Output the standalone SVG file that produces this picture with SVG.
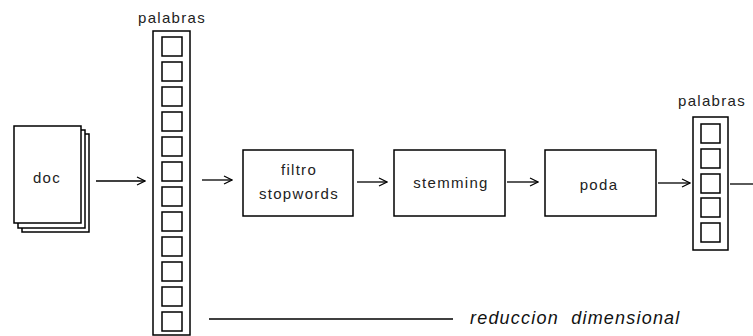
<svg xmlns="http://www.w3.org/2000/svg" width="753" height="336" viewBox="0 0 753 336">
  <defs>
    <marker id="arrow" viewBox="0 0 10 10" refX="9" refY="5" markerWidth="10" markerHeight="10" markerUnits="userSpaceOnUse" orient="auto">
      <path d="M1,1 L9,5 L1,9" fill="none" stroke="#000" stroke-width="1.2"/>
    </marker>
  </defs>
  <style>
    .box { fill: #fff; stroke: #000; stroke-width: 1.5; }
    .cell { fill: #fff; stroke: #000; stroke-width: 1.5; }
    .lbl { font-family: "Liberation Sans", Arial, sans-serif; font-size: 15px; letter-spacing: 1.3px; fill: #222; text-anchor: middle; }
    .conn { stroke: #000; stroke-width: 1.3; fill: none; }
    .note { font-family: "Liberation Sans", Arial, sans-serif; font-size: 18px; font-style: italic; letter-spacing: 1.2px; fill: #111; }
  </style>

  <!-- document stack -->
  <g id="doc">
    <rect class="box" x="22" y="134" width="67" height="98"/>
    <rect class="box" x="18" y="130" width="67" height="98"/>
    <rect class="box" x="14" y="126" width="67" height="97"/>
    <text class="lbl" x="47" y="183">doc</text>
  </g>

  <!-- full word vector -->
  <g id="palabras1">
    <text class="lbl" x="172" y="23">palabras</text>
    <rect class="box" x="153" y="31" width="37" height="304"/>
    <rect class="cell" x="162" y="37" width="20" height="19"/>
    <rect class="cell" x="162" y="62" width="20" height="19"/>
    <rect class="cell" x="162" y="87" width="20" height="19"/>
    <rect class="cell" x="162" y="112" width="20" height="19"/>
    <rect class="cell" x="162" y="137" width="20" height="19"/>
    <rect class="cell" x="162" y="162" width="20" height="19"/>
    <rect class="cell" x="162" y="187" width="20" height="19"/>
    <rect class="cell" x="162" y="212" width="20" height="19"/>
    <rect class="cell" x="162" y="237" width="20" height="19"/>
    <rect class="cell" x="162" y="262" width="20" height="19"/>
    <rect class="cell" x="162" y="287" width="20" height="19"/>
    <rect class="cell" x="162" y="312" width="20" height="19"/>
  </g>

  <g id="filtro">
    <rect class="box" x="243" y="150" width="110" height="66"/>
    <text class="lbl" x="299" y="175">filtro</text>
    <text class="lbl" x="299" y="199">stopwords</text>
  </g>

  <g id="stemming">
    <rect class="box" x="394" y="150" width="111" height="66"/>
    <text class="lbl" x="451" y="188">stemming</text>
  </g>

  <g id="poda">
    <rect class="box" x="545" y="150" width="111" height="66"/>
    <text class="lbl" x="599" y="190">poda</text>
  </g>

  <!-- reduced word vector -->
  <g id="palabras2">
    <text class="lbl" x="712" y="106">palabras</text>
    <rect class="box" x="693" y="117" width="35" height="133"/>
    <rect class="cell" x="701" y="124" width="19" height="19"/>
    <rect class="cell" x="701" y="149" width="19" height="19"/>
    <rect class="cell" x="701" y="174" width="19" height="19"/>
    <rect class="cell" x="701" y="198" width="19" height="19"/>
    <rect class="cell" x="701" y="223" width="19" height="19"/>
  </g>

  <g id="connectors">
    <line class="conn" x1="96" y1="181" x2="145" y2="181" marker-end="url(#arrow)"/>
    <line class="conn" x1="202" y1="180" x2="232" y2="180" marker-end="url(#arrow)"/>
    <line class="conn" x1="357" y1="182" x2="387" y2="182" marker-end="url(#arrow)"/>
    <line class="conn" x1="507" y1="182" x2="538" y2="182" marker-end="url(#arrow)"/>
    <line class="conn" x1="658" y1="183" x2="690" y2="183" marker-end="url(#arrow)"/>
    <line class="conn" x1="730" y1="184" x2="753" y2="184"/>
    <line class="conn" x1="209" y1="319" x2="453" y2="319"/>
  </g>

  <text class="note" x="470" y="324" xml:space="preserve">reduccion  dimensional</text>
</svg>
